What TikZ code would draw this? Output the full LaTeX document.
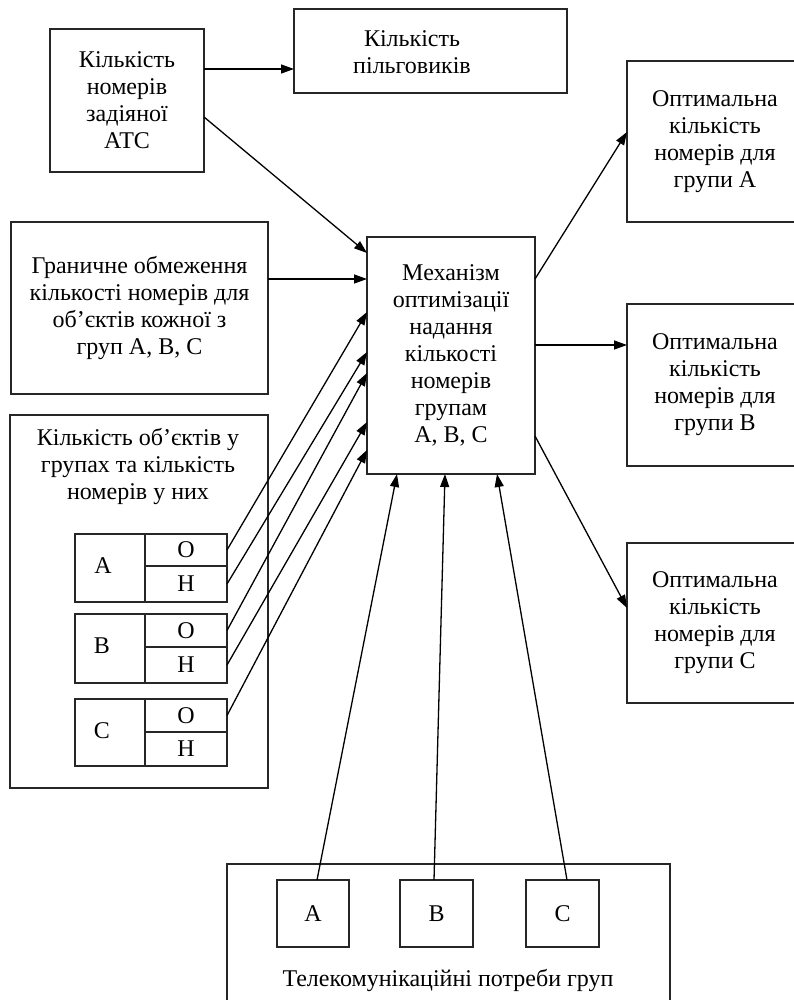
\documentclass[tikz,border=0pt]{standalone}
\usepackage{fontspec}
\setmainfont{Liberation Serif}
\usetikzlibrary{arrows.meta}
\begin{document}
\begin{tikzpicture}[x=1pt,y=-1pt,
  box/.style={draw=black!85, line width=1.2pt, rectangle, inner sep=0pt, outer sep=0pt, align=center,
    font=\fontsize{24}{27}\selectfont},
  cell/.style={draw=black!85, line width=1.2pt, rectangle, inner sep=0pt, outer sep=0pt,
    font=\fontsize{24}{27}\selectfont},
  txt/.style={align=center, inner sep=0pt, font=\fontsize{24}{27}\selectfont},
  arr/.style={line width=1.3pt, -{Triangle[length=13pt,width=9pt]}}]
\useasboundingbox (0,0) rectangle (794,1000);
\clip (0,0) rectangle (794,1000);
% boxes
\node[box, minimum width=154, minimum height=143] (atc) at (127,100.5) {Кількість\\номерів\\задіяної\\АТС};
\node[box, minimum width=273, minimum height=84] (pilg) at (430.5,51) {};
\node[txt] (pilgt) at (412,52.5) {Кількість\\пільговиків};
\node[box, minimum width=176, minimum height=161] (optA) at (715,141.5) {Оптимальна\\кількість\\номерів для\\групи А};
\node[box, minimum width=176, minimum height=162] (optB) at (715,385) {Оптимальна\\кількість\\номерів для\\групи В};
\node[box, minimum width=176, minimum height=160] (optC) at (715,623) {Оптимальна\\кількість\\номерів для\\групи С};
\node[box, minimum width=257, minimum height=172] (limit) at (139.5,308) {Граничне обмеження\\кількості номерів для\\об’єктів кожної з\\груп А, В, С};
\node[box, minimum width=168, minimum height=237] (mech) at (451,355.5) {Механізм\\оптимізації\\надання\\кількості\\номерів\\групам\\А, В, С};
\node[box, minimum width=258, minimum height=373] (objs) at (139,601.5) {};
\node[txt] (objst) at (138,466) {Кількість об’єктів у\\групах та кількість\\номерів у них};
% tables
\node[cell, minimum width=70, minimum height=68] (Al) at (110,568) {};
\node[txt] (Alt) at (103,566) {А};
\node[cell, minimum width=82, minimum height=32] (AO) at (186,550) {О};
\node[cell, minimum width=82, minimum height=36] (AH) at (186,584) {Н};
\node[cell, minimum width=70, minimum height=69] (Bl) at (110,648.5) {};
\node[txt] (Blt) at (102,646) {В};
\node[cell, minimum width=82, minimum height=33] (BO) at (186,630.5) {О};
\node[cell, minimum width=82, minimum height=36] (BH) at (186,665) {Н};
\node[cell, minimum width=70, minimum height=67] (Cl) at (110,732.5) {};
\node[txt] (Clt) at (102,731) {С};
\node[cell, minimum width=82, minimum height=33] (CO) at (186,715.5) {О};
\node[cell, minimum width=82, minimum height=34] (CH) at (186,749) {Н};
% bottom
\node[box, minimum width=443, minimum height=150] (needs) at (448.5,939) {};
\node[txt] (needst) at (448,980) {Телекомунікаційні потреби груп};
\node[cell, minimum width=72, minimum height=67] (nA) at (313,913.5) {А};
\node[cell, minimum width=73, minimum height=67] (nB) at (436.5,913.5) {В};
\node[cell, minimum width=73, minimum height=67] (nC) at (562.5,913.5) {С};
% connectors
\draw[arr] (atc.east |- 0,69) -- (pilg.west |- 0,69);
\draw[arr] (atc.east |- 0,117) -- (mech.west |- 0,253);
\draw[arr] (limit.east |- 0,279) -- (mech.west |- 0,279);
\draw[arr] (mech.east |- 0,279) -- (optA.west |- 0,132);
\draw[arr] (mech.east |- 0,345) -- (optB.west |- 0,345);
\draw[arr] (mech.east |- 0,436) -- (optC.west |- 0,608);
\draw[arr] (AO.east) -- (mech.west |- 0,312);
\draw[arr] (AH.east) -- (mech.west |- 0,352);
\draw[arr] (BO.east) -- (mech.west |- 0,373);
\draw[arr] (BH.east) -- (mech.west |- 0,422);
\draw[arr] (CO.east) -- (mech.west |- 0,450);
\draw[arr] (nA.north -| 317,0) -- (mech.south -| 397,0);
\draw[arr] (nB.north -| 434,0) -- (mech.south -| 445,0);
\draw[arr] (nC.north -| 567,0) -- (mech.south -| 497,0);
\end{tikzpicture}
\end{document}
